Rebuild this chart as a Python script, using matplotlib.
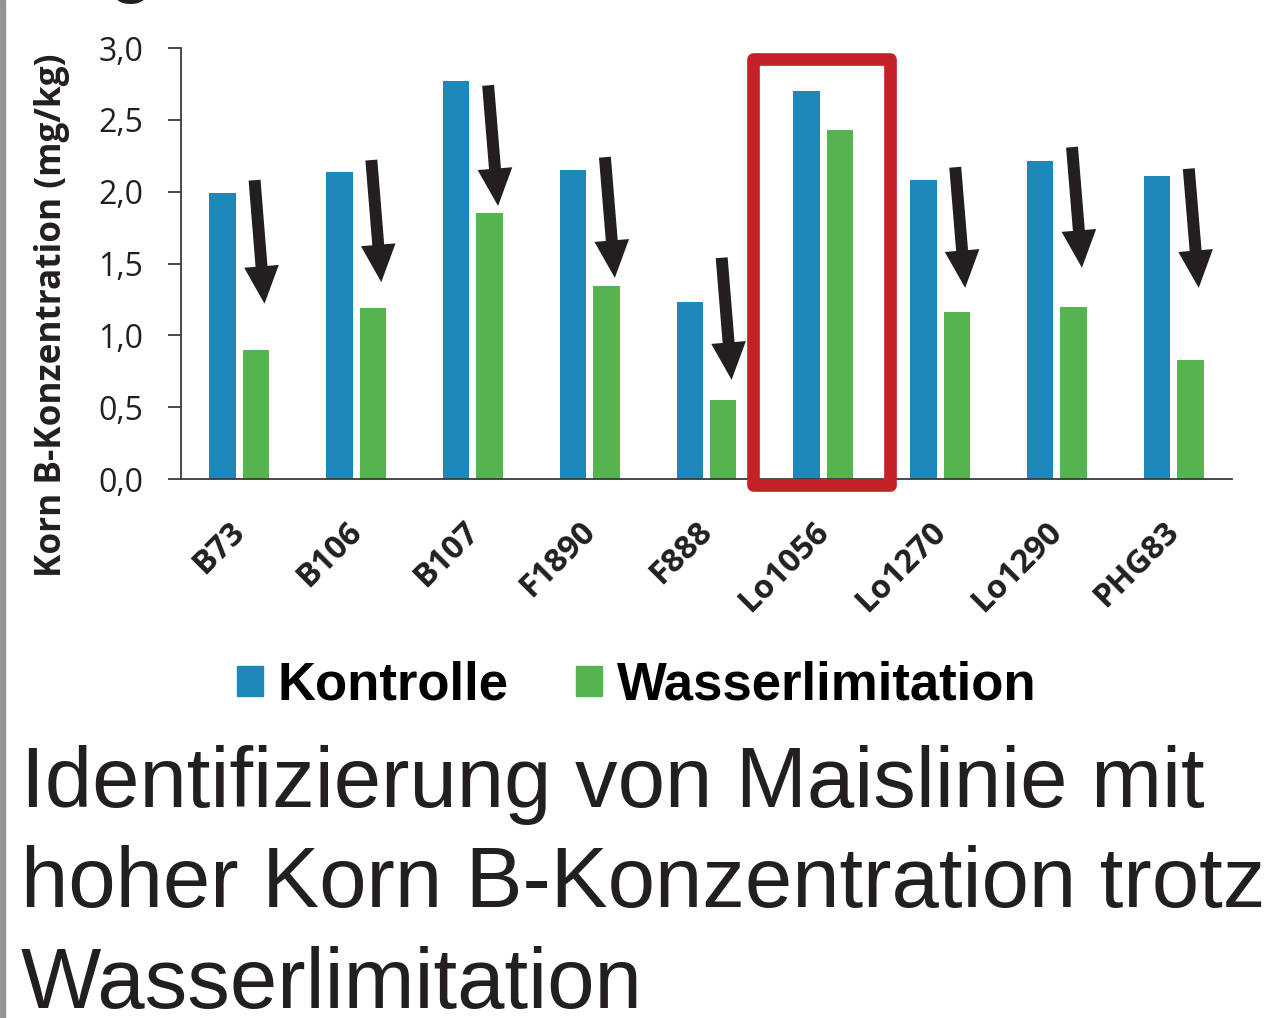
import matplotlib
matplotlib.use('Agg')
import matplotlib.pyplot as plt
from matplotlib.patches import Patch, Rectangle, FancyArrowPatch
from matplotlib.transforms import ScaledTranslation

# data (mg/kg)
lines = ['B73', 'B106', 'B107', 'F1890', 'F888', 'Lo1056', 'Lo1270', 'Lo1290', 'PHG83']
kontrolle = [1.99, 2.14, 2.77, 2.15, 1.23, 2.70, 2.08, 2.21, 2.11]
wasserlimitation = [0.90, 1.19, 1.85, 1.34, 0.55, 2.43, 1.16, 1.20, 0.83]
yticks = [0.0, 0.5, 1.0, 1.5, 2.0, 2.5, 3.0]
ytick_labels = ['0,0', '0,5', '1,0', '1,5', '2,0', '2,5', '3,0']

# arrows (start / end value), None = no arrow
arrow_start = [2.08, 2.22, 2.74, 2.24, 1.54, None, 2.17, 2.31, 2.16]
arrow_end = [1.22, 1.37, 1.90, 1.40, 0.69, None, 1.33, 1.47, 1.33]
highlight = 5

caption = ['Identifizierung von Maislinie mit',
           'hoher Korn B-Konzentration trotz',
           'Wasserlimitation']

blue = '#1e88bb'
green = '#56b450'
red = '#c42027'
dark = '#231f20'

fig = plt.figure(figsize=(12.69, 10.18), dpi=100)
ax = fig.add_axes([181 / 1269, 1 - 479 / 1018, 1051 / 1269, 431 / 1018])

x = list(range(len(lines)))
w = 0.227
ax.bar([i - 0.143 for i in x], kontrolle, w, color=blue, zorder=2)
ax.bar([i + 0.143 for i in x], wasserlimitation, w, color=green, zorder=2)

for i, (a, b) in enumerate(zip(arrow_start, arrow_end)):
    if a is None:
        continue
    arr = FancyArrowPatch((i + 0.13, a), (i + 0.215, b),
                          arrowstyle='simple,head_width=25,head_length=27,tail_width=8.6',
                          mutation_scale=1, shrinkA=0, shrinkB=0,
                          color=dark, lw=0, zorder=3)
    ax.add_patch(arr)

box = Rectangle((highlight - 0.60, -0.042), 1.174, 2.968, fill=False,
                edgecolor=red, lw=9.1, joinstyle='round', clip_on=False, zorder=4)
ax.add_patch(box)

ax.set_xlim(-0.5, 8.5)
ax.set_ylim(0, 3.0)
ax.set_yticks(yticks)
ax.set_yticklabels(ytick_labels, fontfamily='Open Sans', fontsize=23, color=dark)
ax.tick_params(axis='y', length=9.4, width=1.3, color='#3a3a3a', pad=18)
ax.set_xticks(x)
ax.set_xticklabels(lines, rotation=45, ha='right', va='top', rotation_mode='anchor',
                   fontfamily='Open Sans', fontweight='bold', fontsize=23.5, color=dark)
ax.tick_params(axis='x', length=0, pad=26)
shift = ScaledTranslation(-0.11, 0, fig.dpi_scale_trans)
for lab in ax.get_xticklabels():
    lab.set_transform(lab.get_transform() + shift)
for s in ['top', 'right']:
    ax.spines[s].set_visible(False)
for s in ['left', 'bottom']:
    ax.spines[s].set_color('#3a3a3a')
    ax.spines[s].set_linewidth(1.3)

ax.set_ylabel('Korn B-Konzentration (mg/kg)', fontfamily='Open Sans', fontweight='bold',
              fontsize=25.3, color=dark)
ax.yaxis.set_label_coords(-0.1056, 0.38)

handles = [Patch(color=blue, label='Kontrolle'), Patch(color=green, label='Wasserlimitation')]
fig.legend(handles=handles, loc='center left', bbox_to_anchor=(237 / 1269, 1 - 686 / 1018),
           ncol=2, frameon=False, borderpad=0, borderaxespad=0,
           handlelength=0.49, handleheight=0.5, handletextpad=0.28, columnspacing=1.28,
           prop={'family': 'Liberation Sans', 'weight': 'bold', 'size': 38})

for k, line in enumerate(caption):
    fig.text(21 / 1269, 1 - (807 + 100.5 * k) / 1018, line, fontfamily='Liberation Sans',
             fontsize=61.3, color=dark, ha='left', va='baseline')

# cut-off letter of the heading above
fig.text(131 / 1269, 1 + 12.6 / 1018, 'g', fontfamily='Liberation Sans', fontsize=60.5,
         color=dark, ha='center', va='baseline')

fig.patches.append(Rectangle((0, 0), 5 / 1269, 1, transform=fig.transFigure,
                             color='#939398', zorder=10))

fig.savefig('out.png', dpi=100)
